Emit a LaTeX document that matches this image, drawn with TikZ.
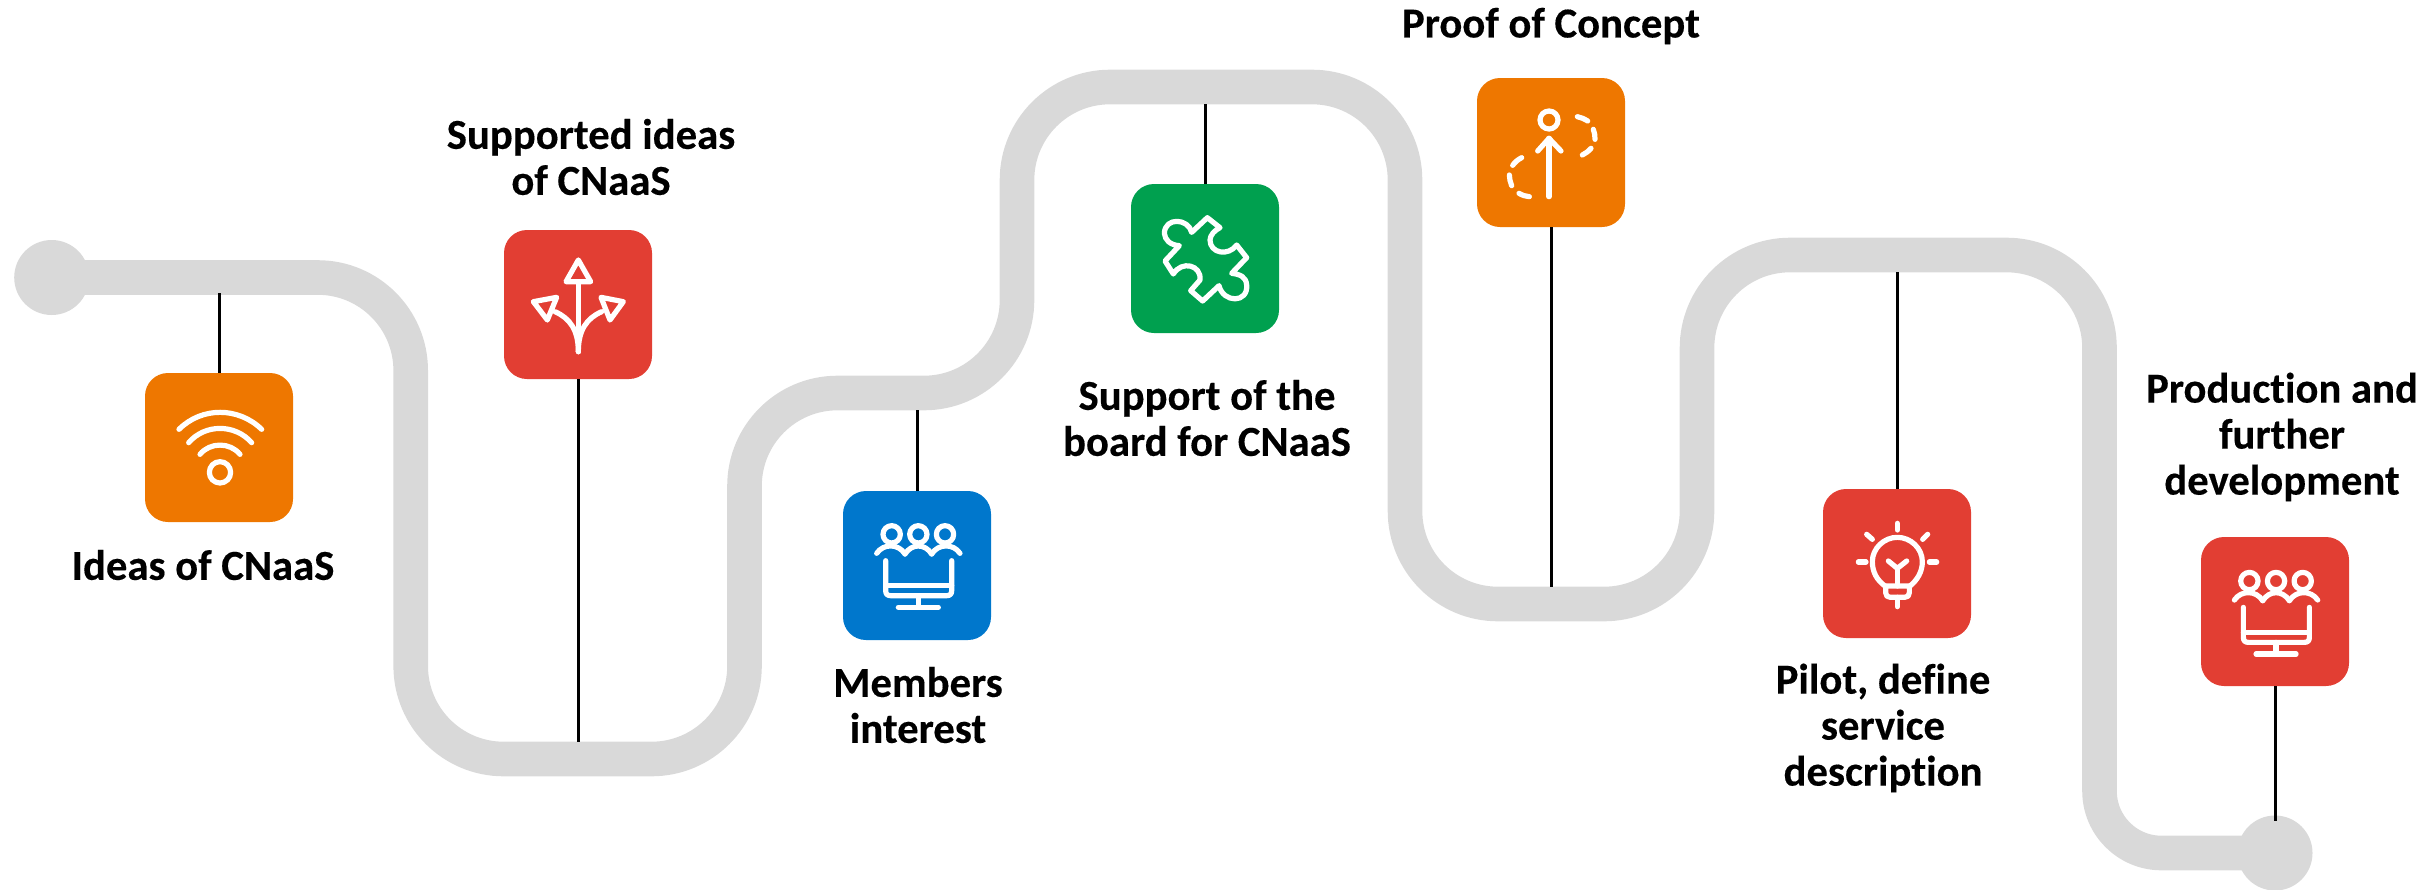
\documentclass[tikz,border=0pt]{standalone}
\usepackage{fontspec}
\setmainfont[Ligatures=NoCommon,BoldFeatures={FakeBold=0.3}]{Carlito}
\definecolor{roadgrey}{HTML}{D9D9D9}
\definecolor{iconorange}{HTML}{EE7700}
\definecolor{iconred}{HTML}{E23E33}
\definecolor{iconblue}{HTML}{0077CC}
\definecolor{icongreen}{HTML}{00A04F}
\tikzset{
  road/.style={draw=roadgrey,line width=34.6pt,rounded corners=93pt},
  roadend/.style={circle,fill=roadgrey,minimum size=75pt,inner sep=0pt},
  tile/.style={rectangle,rounded corners=23pt,minimum width=148pt,minimum height=149pt,inner sep=0pt},
  link/.style={draw=black,line width=3pt},
  caption/.style={align=center,font=\fontsize{42.7}{46}\selectfont\bfseries,inner sep=0pt},
  icon/.style={draw=white,line width=5.2pt,line cap=round,line join=round},
  zoomed/.style={x=0.33333pt,y=-0.33333pt}
}
\newcommand{\peopleglyph}{%
  \foreach \hx in {185,265,345}{\draw[icon] (\hx,163) circle (26);}
  \draw[icon] (140,220) .. controls (160,190) and (205,190) .. (225,222);
  \draw[icon] (225,222) .. controls (245,190) and (285,190) .. (305,222);
  \draw[icon] (305,222) .. controls (325,190) and (370,190) .. (390,220);
  \draw[icon] (167,242) -- (167,332) .. controls (167,342) and (172,347) .. (182,347) -- (350,347) .. controls (360,347) and (365,342) .. (365,332) -- (365,242);
  \draw[icon] (167,317) -- (365,317);
  \draw[icon] (265,347) -- (265,382);
  \draw[icon] (205,382) -- (325,382);
}
\begin{document}
\begin{tikzpicture}[x=1pt,y=-1pt]
\useasboundingbox (0,0) rectangle (2427,889);
% road
\node[roadend] (startdot) at (51.7,277.5) {};
\node[roadend] (enddot) at (2275,853) {};
\coordinate (roadsplit) at (2099.5,650);
\draw[road] (startdot.center) -- (410.7,277.5) -- (410.7,759) -- (744.5,759) -- (744.5,393) -- (1017,393) -- (1017,87) -- (1405,87) -- (1405,604) -- (1697,604) -- (1697,255) -- (2099.5,255) -- (roadsplit);
\draw[road,rounded corners=62pt] (roadsplit) -- (2099.5,853) -- (enddot.center);
% tiles
\node[tile,fill=iconorange] (t1) at (219,447.5) {};
\node[tile,fill=iconred] (t2) at (578,304.5) {};
\node[tile,fill=iconblue] (t3) at (917,565.5) {};
\node[tile,fill=icongreen] (t4) at (1205,258.5) {};
\node[tile,fill=iconorange] (t5) at (1551,152.5) {};
\node[tile,fill=iconred] (t6) at (1897,563.5) {};
\node[tile,fill=iconred] (t7) at (2275,611.5) {};
% connector ends on the road
\coordinate (r1) at (219,293);
\coordinate (r2) at (578,742);
\coordinate (r3) at (917,410);
\coordinate (r4) at (1205,104);
\coordinate (r5) at (1551,587);
\coordinate (r6) at (1897,272);
\coordinate (r7) at (2275,821);
\foreach \a/\b in {t1.north/r1,t2.south/r2,t3.north/r3,t4.north/r4,t5.south/r5,t6.north/r6,t7.south/r7}{\draw[link] (\a) -- (\b);}
% wifi
\begin{scope}[shift={(130,360)},zoomed]
  \draw[icon] (147,208) .. controls (215,140) and (325,140) .. (395,208);
  \draw[icon] (176,248) .. controls (225,191) and (315,191) .. (365,248);
  \draw[icon] (210,283) .. controls (240,246) and (300,246) .. (330,283);
  \draw[icon] (270,337) circle (32);
\end{scope}
% arrows
\begin{scope}[shift={(490,220)},zoomed]
  \draw[icon] (265,120) -- (228,185) -- (302,185) -- cycle;
  \draw[icon] (130,245) -- (200,232) -- (172,300) -- cycle;
  \draw[icon] (400,245) -- (333,232) -- (360,300) -- cycle;
  \draw[icon] (265,395) -- (265,185);
  \draw[icon] (265,395) .. controls (265,330) and (240,295) .. (195,275);
  \draw[icon] (265,395) .. controls (265,330) and (290,295) .. (335,275);
\end{scope}
% people and screen
\begin{scope}[shift={(830,480)},zoomed]
  \peopleglyph
\end{scope}
\begin{scope}[shift={(2187.7,526.7)},zoomed]
  \peopleglyph
\end{scope}
% puzzle
\begin{scope}[shift={(1120,175)},zoomed]
  \draw[icon] (178,212) -- (135,258) -- (160,297) .. controls (185,255) and (245,270) .. (240,315) -- (212,347) -- (248,378) -- (297,332) .. controls (310,385) and (385,385) .. (380,330) .. controls (378,305) and (360,298) .. (335,295) -- (380,248) -- (350,210) .. controls (325,245) and (270,235) .. (270,195) .. controls (270,180) and (285,165) .. (300,158) -- (262,128) -- (215,172) .. controls (205,130) and (135,125) .. (133,175) .. controls (135,195) and (150,210) .. (178,212) -- cycle;
\end{scope}
% proof of concept
\begin{scope}[shift={(1465,70)},zoomed]
  \draw[icon] (252,150) circle (27);
  \draw[icon] (252,380) -- (252,205);
  \draw[icon] (218,243) -- (252,205) -- (288,243);
  \draw[icon] (337,140) .. controls (348,142) and (358,147) .. (368,153);
  \draw[icon] (385,178) .. controls (389,188) and (390,198) .. (390,208);
  \draw[icon] (352,255) .. controls (362,250) and (370,244) .. (378,235);
  \draw[icon] (170,263) .. controls (160,268) and (150,276) .. (143,286);
  \draw[icon] (133,315) .. controls (133,326) and (136,337) .. (140,347);
  \draw[icon] (162,370) .. controls (172,376) and (182,379) .. (193,380);
\end{scope}
% bulb
\begin{scope}[shift={(1810,480)},zoomed]
  \draw[icon] (262,130) -- (262,150);
  \draw[icon] (170,163) -- (187,178);
  \draw[icon] (353,163) -- (338,178);
  \draw[icon] (145,246) -- (168,246);
  \draw[icon] (358,246) -- (380,246);
  \draw[icon] (225,318) .. controls (200,300) and (187,275) .. (187,245) .. controls (187,205) and (222,172) .. (262,172) .. controls (302,172) and (337,205) .. (337,245) .. controls (337,275) and (322,300) .. (300,318);
  \draw[icon] (227,318) -- (227,338) .. controls (227,347) and (232,352) .. (241,352) -- (284,352) .. controls (293,352) and (298,347) .. (298,338) -- (298,318) -- cycle;
  \draw[icon] (262,352) -- (262,380);
  \draw[icon] (262,318) -- (262,265);
  \draw[icon] (235,243) -- (262,265) -- (290,243);
\end{scope}
% captions
\node[caption] (c1) at (203,565) {Ideas of CNaaS};
\node[caption] (c2) at (591,157) {Supported ideas\\of CNaaS};
\node[caption] (c3) at (918,705) {Members\\interest};
\node[caption] (c4) at (1207,418) {Support of the\\board for CNaaS};
\node[caption] (c5) at (1551,26) {Proof of Concept};
\node[caption] (c6) at (1883,728) {Pilot, define\\service\\description};
\node[caption] (c7) at (2282,437) {Production and\\further\\development};
\end{tikzpicture}
\end{document}
